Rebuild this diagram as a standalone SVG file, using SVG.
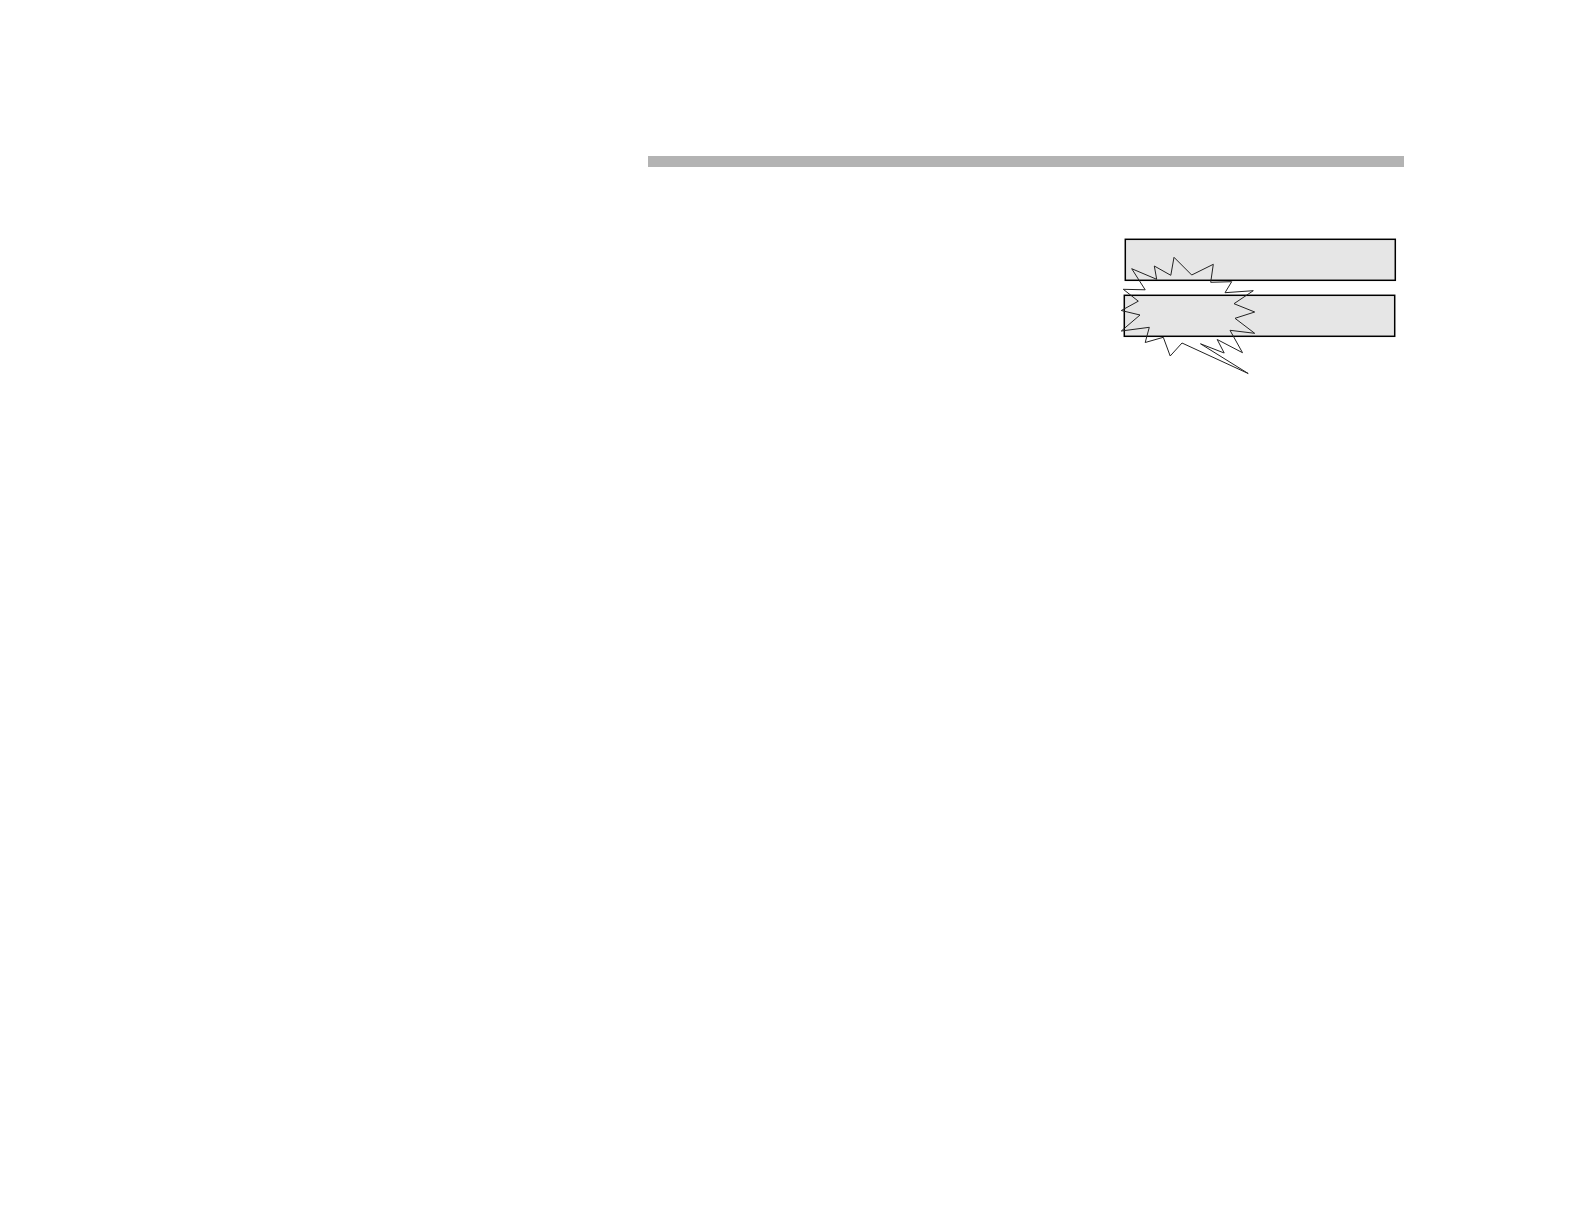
<svg xmlns="http://www.w3.org/2000/svg" width="1584" height="1222" viewBox="0 0 1584 1222">
<style>
.box{fill:#e6e6e6;stroke:#000;stroke-width:1.5}
.burst{fill:none;stroke:#222;stroke-width:1}
</style>
<rect width="1584" height="1222" fill="#fff"/>
<g id="bar"><rect x="648" y="156" width="756" height="11" fill="#b3b3b3"/></g>
<g id="box1"><rect class="box" x="1125.3" y="239.3" width="270" height="41"/></g>
<g id="box2"><rect class="box" x="1124.3" y="295.3" width="270.4" height="41"/></g>
<g id="burst">
<polygon class="burst" points="1131.7,268.7 1156.7,279.3 1154.3,266 1170.8,275.3 1174,257.3 1191.7,275 1213.3,264.3 1210.7,282.3 1231.7,281.7 1225,292.7 1253.3,290.7 1234,303.7 1254.7,312 1235,318.3 1254.7,333.3 1230,330.3 1242.5,352.7 1217.2,339.5 1224.2,353 1200.5,343.8 1248.2,373.5 1182,343 1170.2,356 1163.3,337.3 1145.2,342.5 1149.3,327.3 1121.3,331 1140,315 1121.3,310.5 1138.3,301.2 1123.3,289.3 1145.2,289.8"/>
</g>
</svg>
